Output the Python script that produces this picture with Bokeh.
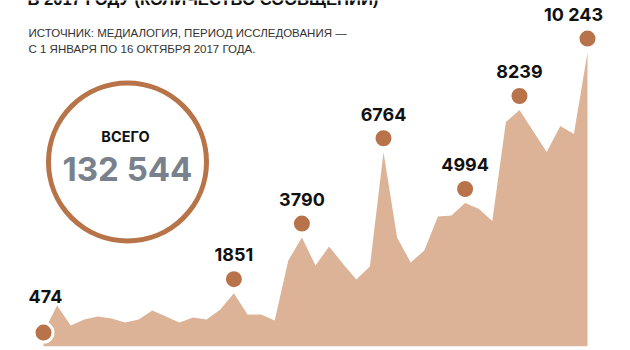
from bokeh.plotting import figure
from bokeh.models import Range1d, Label, ColumnDataSource
from bokeh.core.properties import value
from bokeh.embed import file_html
from bokeh.resources import INLINE

# ---- data (weekly message counts, 1 Jan - 16 Oct 2017) ----
counts = [474, 1420, 722, 931, 1036, 966, 826, 931, 1245, 1036,
          826, 1001, 931, 1280, 1851, 1106, 1106, 896, 2990, 3790,
          2815, 3477, 2885, 2326, 2780, 6764, 3790, 2919, 3338, 4524,
          4558, 4994, 4790, 4366, 7820, 8239, 7506, 6774, 7681, 7402,
          10243]
weeks = list(range(len(counts)))
highlight_idx = [0, 14, 19, 25, 31, 35, 40]
total = 132544
title = "В 2017 ГОДУ (КОЛИЧЕСТВО СООБЩЕНИЙ)"
subtitle1 = "ИСТОЧНИК: МЕДИАЛОГИЯ, ПЕРИОД ИССЛЕДОВАНИЯ —"
subtitle2 = "С 1 ЯНВАРЯ ПО 16 ОКТЯБРЯ 2017 ГОДА."
total_caption = "ВСЕГО"

# ---- layout ----
W, H = 630, 350
X0, DX = 43.0, 13.6          # px of first week, px per week
BASE, K = 4.3, 0.02867       # baseline px from bottom, px per message
FONT = "Liberation Sans"
NUM_FONT = "Inter"
SHIFT = 0.4                  # baseline correction (em)

def fmt(v):
    s = str(v)
    return f"{int(s[:-3])} {s[-3:]}" if v >= 10000 else s

def dx(px):
    return (px - X0) / DX

def dy(py_top):
    return ((H - py_top) - BASE) / K

def lab(text, x, base_top, fs, font=FONT, bold=False, color="#111111", align="left"):
    return Label(x=x, y=H - (base_top - SHIFT * fs), x_units="screen", y_units="screen",
                 text=text, text_font=font, text_font_size=f"{fs}px",
                 text_font_style="bold" if bold else "normal", text_color=color,
                 text_align=align, text_baseline="alphabetic")

p = figure(width=W, height=H, output_backend="svg", toolbar_location=None,
           x_range=Range1d(dx(0), dx(W)), y_range=Range1d(dy(H), dy(0)),
           x_axis_type=None, y_axis_type=None, min_border=0)
p.outline_line_color = None
p.xgrid.visible = False
p.ygrid.visible = False
p.background_fill_color = "white"
p.border_fill_color = "white"

AREA = "#DDB397"
DOT = "#B8734A"

p.varea(x=weeks, y1=[0] * len(counts), y2=counts, fill_color=AREA)

dot_off = 14 / K
hx = [weeks[i] for i in highlight_idx]
hv = [counts[i] for i in highlight_idx]
dot_y = [v if i == 0 else v + dot_off for i, v in zip(highlight_idx, hv)]
src = ColumnDataSource(dict(x=hx, y=dot_y))
p.scatter(x="x", y="y", source=src, size=19, fill_color=DOT,
          line_color="white", line_width=3)

LFS = 18
n_lab = len(hx) - 1
x_offs = [0] * n_lab
x_offs[-1] = -14             # last label nudged left of its dot
lab_src = ColumnDataSource(dict(x=hx[1:], y=dot_y[1:], t=[fmt(v) for v in hv[1:]],
                                xo=x_offs))
p.text(x="x", y="y", text="t", source=lab_src, text_font=value(NUM_FONT),
       text_font_style="bold", text_font_size=f"{LFS}px", text_color="#111111",
       text_align="center", text_baseline="alphabetic", y_offset=-17 - SHIFT * LFS,
       x_offset="xo")
first_src = ColumnDataSource(dict(x=hx[:1], y=dot_y[:1], t=[fmt(hv[0])]))
p.text(x="x", y="y", text="t", source=first_src, text_font=value(NUM_FONT),
       text_font_style="bold", text_font_size=f"{LFS}px", text_color="#111111",
       text_align="center", text_baseline="alphabetic", y_offset=-29 - SHIFT * LFS,
       x_offset=2)

# ring with total
p.scatter(x=[dx(127)], y=[dy(161.5)], size=158, fill_color=None,
          line_color="#B87449", line_width=5)
p.add_layout(lab(total_caption, 125, 142, 14.5, font=NUM_FONT, bold=True, align="center"))
p.add_layout(lab(f"{total // 1000} {total % 1000:03d}", 127, 182, 33, font=NUM_FONT,
                 bold=True, color="#78818C", align="center"))

# title and subtitle
p.add_layout(lab(title, 27, 6, 16.6, bold=True))
p.add_layout(lab(subtitle1, 28, 37, 11.5, color="#333333"))
p.add_layout(lab(subtitle2, 28, 53, 11.5, color="#333333"))

open("out.html", "w").write(file_html(p, INLINE))
